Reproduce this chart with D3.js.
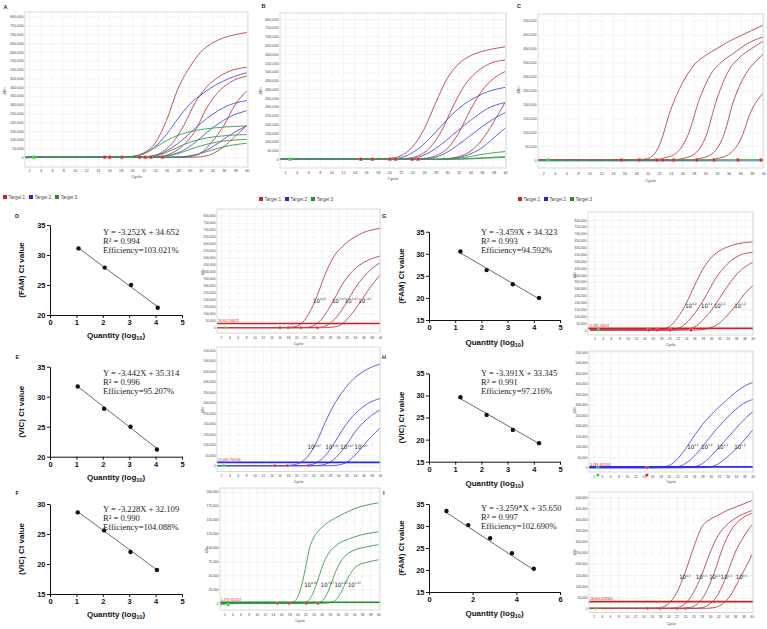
<!DOCTYPE html>
<html>
<head>
<meta charset="utf-8">
<script src="https://cdn.jsdelivr.net/npm/d3@7"></script>
<style>
  body { margin: 0; background: #fff; }
  svg { display: block; font-family: Arial, "Liberation Sans", sans-serif; }
</style>
</head>
<body>
<svg id="fig" width="767" height="629"></svg>
<script>
// ---------- tick labels ----------
var cycleTicks = [2,4,6,8,10,12,14,16,18,20,22,24,26,28,30,32,34,36,38,40];
var drnTicks800 = [0,50000,100000,150000,200000,250000,300000,350000,400000,450000,500000,550000,600000,650000,700000,750000,800000];
var drnTicks550 = [0,50000,100000,150000,200000,250000,300000,350000,400000,450000,500000,550000];
var drnTicks500 = [0,50000,100000,150000,200000,250000,300000,350000,400000,450000,500000];
var drnTicks200 = [0,25000,50000,75000,100000,125000,150000,175000,200000];
var qTicks5 = [0,1,2,3,4,5];
var qTicks6 = [0,2,4,6];
var ctTicks20_35 = [20,25,30,35];
var ctTicks15_30 = [15,20,25,30];
var ctTicks15_35 = [15,20,25,30,35];
var targets = ["Target 1", "Target 2", "Target 3"];

// ---------- amplification curves [cycle, dRn] ----------
var ampA_t1 = [
  [[1,0],[18,0],[20,5000],[22,25000],[24,80000],[26,210000],[28,390000],[30,510000],[32,600000],[34,650000],[36,680000],[38,698000],[40,710000]],
  [[1,0],[20,0],[23,5000],[25,25000],[27,80000],[29,180000],[31,310000],[33,400000],[35,455000],[37,490000],[40,512000]],
  [[1,0],[22,0],[25,5000],[27,25000],[29,70000],[31,150000],[33,280000],[35,370000],[37,425000],[40,462000]],
  [[1,0],[27,0],[30,5000],[32,25000],[34,90000],[36,180000],[38,300000],[40,377000]],
  [[1,0],[30,0],[32,3000],[34,20000],[36,60000],[38,120000],[40,180000]]
];
var ampA_t2 = [
  [[1,0],[18,0],[20,4000],[22,20000],[24,60000],[26,130000],[28,220000],[30,300000],[32,355000],[34,400000],[36,435000],[38,462000],[40,481000]],
  [[1,0],[21,0],[23,4000],[25,20000],[27,55000],[29,105000],[31,165000],[33,220000],[35,265000],[37,298000],[40,322000]],
  [[1,0],[23,0],[25,3000],[27,15000],[29,40000],[31,85000],[33,140000],[35,190000],[37,230000],[40,265000]],
  [[1,0],[27,0],[29,3000],[31,12000],[33,40000],[35,80000],[37,125000],[40,180000]]
];
var ampA_t3 = [
  [[1,-5000],[4,0],[18,0],[20,4000],[22,20000],[24,55000],[26,95000],[28,125000],[30,145000],[32,158000],[34,166000],[36,172000],[38,176000],[40,178000]],
  [[1,0],[21,0],[23,3000],[25,15000],[27,42000],[29,72000],[31,95000],[33,110000],[35,119000],[37,125000],[40,129000]],
  [[1,0],[23,0],[25,3000],[27,12000],[29,32000],[31,55000],[33,74000],[35,88000],[37,96000],[40,102000]],
  [[1,0],[26,0],[28,2000],[30,8000],[32,22000],[34,42000],[36,60000],[38,72000],[40,80000]]
];

var ampB_t1 = [
  [[1,0],[18,0],[20,5000],[22,20000],[24,70000],[26,170000],[28,320000],[30,460000],[32,545000],[34,590000],[36,615000],[38,630000],[40,642000]],
  [[1,0],[21,0],[23,5000],[25,20000],[27,65000],[29,160000],[31,300000],[33,420000],[35,495000],[37,540000],[40,566000]],
  [[1,0],[24,0],[26,5000],[28,20000],[30,60000],[32,150000],[34,280000],[36,390000],[38,460000],[40,500000]],
  [[1,0],[28,0],[30,4000],[32,15000],[34,45000],[36,110000],[38,210000],[40,323000]]
];
var ampB_t2 = [
  [[1,0],[19,0],[21,4000],[23,20000],[25,60000],[27,120000],[29,190000],[31,260000],[33,315000],[35,355000],[37,385000],[40,410000]],
  [[1,0],[21,0],[23,3000],[25,12000],[27,40000],[29,85000],[31,140000],[33,195000],[35,245000],[37,290000],[40,323000]],
  [[1,0],[24,0],[26,3000],[28,12000],[30,40000],[32,85000],[34,135000],[36,185000],[38,230000],[40,266000]],
  [[1,0],[28,0],[30,3000],[32,10000],[34,30000],[36,65000],[38,120000],[40,177000]]
];
var ampB_t3 = [
  [[1,0],[28,0],[31,3000],[33,10000],[35,22000],[37,33000],[40,44000]],
  [[1,0],[30,0],[34,5000],[37,10000],[40,15000]],
  [[1,0],[31,0],[35,4000],[40,11000]]
];

var ampC_t1 = [
  [[1,0],[18,0],[20,5000],[22,50000],[24,180000],[26,275000],[28,340000],[30,375000],[32,400000],[34,425000],[36,445000],[38,465000],[40,484000]],
  [[1,0],[21,0],[23,8000],[25,25000],[27,90000],[29,220000],[31,310000],[33,355000],[35,385000],[37,415000],[40,442000]],
  [[1,0],[24,0],[26,5000],[28,20000],[30,80000],[32,220000],[34,320000],[36,370000],[38,400000],[40,427000]],
  [[1,0],[27,0],[29,5000],[31,20000],[33,80000],[35,220000],[37,310000],[39,360000],[40,380000]],
  [[1,0],[30,0],[32,5000],[34,20000],[36,70000],[38,180000],[40,241000]]
];
var ampC_t2 = [[[1,-3000],[40,-3000]]];
var ampC_t3 = [[[1,-1500],[40,1500]]];

var ampD_t1 = [
  [[1,0],[16,0],[19,4000],[21,25000],[23,100000],[25,230000],[27,390000],[29,510000],[31,580000],[33,630000],[35,665000],[37,690000],[40,710000]],
  [[1,0],[20,0],[23,5000],[25,30000],[27,100000],[29,200000],[31,310000],[33,390000],[35,445000],[37,480000],[40,512000]],
  [[1,0],[23,0],[26,5000],[28,30000],[30,90000],[32,180000],[34,280000],[36,360000],[38,420000],[40,464000]],
  [[1,0],[26,0],[29,5000],[31,28000],[33,90000],[35,170000],[37,260000],[39,340000],[40,376000]]
];
var ampE_t2 = [
  [[1,0],[17,0],[19,3000],[21,15000],[23,50000],[25,120000],[27,210000],[29,290000],[31,350000],[33,400000],[35,435000],[37,460000],[40,484000]],
  [[1,0],[21,0],[23,3000],[25,16000],[27,50000],[29,105000],[31,170000],[33,225000],[35,265000],[37,295000],[40,320000]],
  [[1,0],[24,0],[26,3000],[28,16000],[30,50000],[32,100000],[34,160000],[36,205000],[38,240000],[40,265000]],
  [[1,0],[28,0],[30,3000],[32,16000],[34,50000],[36,95000],[38,140000],[40,178000]]
];
var ampF_t3 = [
  [[1,-3000],[5,0],[17,0],[19,2000],[20,10000],[21,30000],[22,62000],[23,98000],[24,117000],[25,128000],[27,142000],[30,155000],[33,166000],[36,174000],[40,180000]],
  [[1,0],[20,0],[22,2000],[23,7000],[24,20000],[25,40000],[26,62000],[27,80000],[28,92000],[30,106000],[33,116000],[36,123000],[40,128000]],
  [[1,0],[23,0],[25.6,2000],[27,12000],[28,28000],[29,48000],[30,65000],[31,78000],[32,86000],[34,95000],[37,101000],[40,105000]],
  [[1,0],[26,0],[28.6,2000],[30,10000],[31,22000],[32,38000],[33,52000],[34,62000],[35,68000],[37,73000],[40,78000]]
];
var ampG_t1 = [
  [[1,0],[16,0],[18,4000],[20,25000],[22,90000],[24,190000],[26,320000],[28,440000],[30,525000],[32,575000],[34,605000],[36,625000],[38,635000],[40,642000]],
  [[1,0],[19,0],[21,4000],[23,25000],[25,80000],[27,160000],[29,260000],[31,370000],[33,450000],[35,510000],[37,545000],[40,565000]],
  [[1,0],[22,0],[24,4000],[26,22000],[28,70000],[30,140000],[32,230000],[34,320000],[36,400000],[38,455000],[40,493000]],
  [[1,0],[26,0],[28,3000],[30,18000],[32,50000],[34,110000],[36,180000],[38,260000],[40,323000]]
];
var ampH_t2 = [
  [[1,0],[16,0],[18,2000],[20,10000],[22,40000],[24,90000],[26,150000],[28,205000],[30,250000],[32,290000],[34,325000],[36,360000],[38,388000],[40,406000]],
  [[1,0],[19,0],[21,2000],[23,10000],[25,35000],[27,75000],[29,125000],[31,175000],[33,220000],[35,260000],[37,295000],[40,325000]],
  [[1,0],[23,0],[25,2000],[27,10000],[29,35000],[31,75000],[33,120000],[35,165000],[37,210000],[40,267000]],
  [[1,0],[27,0],[29,2000],[31,10000],[33,35000],[35,70000],[37,110000],[39,155000],[40,179000]]
];
var ampI_t1 = [
  [[1,0],[16,0],[18,3000],[20,20000],[22,70000],[24,160000],[26,270000],[28,365000],[30,400000],[32,420000],[34,440000],[36,455000],[38,470000],[40,485000]],
  [[1,0],[20,0],[22,3000],[24,20000],[26,70000],[28,150000],[30,250000],[32,330000],[34,375000],[36,405000],[38,425000],[40,440000]],
  [[1,0],[23,0],[25,3000],[27,20000],[29,70000],[31,160000],[33,270000],[35,350000],[37,395000],[40,428000]],
  [[1,0],[26,0],[28,3000],[30,20000],[32,65000],[34,150000],[36,250000],[38,320000],[40,375000]],
  [[1,0],[29,0],[31,3000],[33,20000],[35,60000],[37,130000],[39,200000],[40,240000]]
];

// ---------- Ct markers [cycle, dRn] ----------
var marksA_red = [[15.2,0],[16.1,0],[18.2,0],[21.3,0],[22.3,0],[23.3,0],[25.3,0]];
var marksB_red = [[15.1,0],[17.1,0],[20.1,0],[21.1,0],[24,0],[25,0]];
var marksC_red = [[15.5,0],[18.6,0],[21.6,0],[22.6,0],[24.5,0],[28.5,0],[31.5,0],[35.6,0],[39.6,0]];
var marksD_red = [[16.1,0],[18.1,0],[21.1,0],[25.0,0]];
var marksE_red = [[14.9,0],[17.9,0],[22.9,0]];
var marksF_red = [[15.1,0],[18.0,0],[22.2,0],[25.1,0]];
var marksG_red = [[15.1,0],[17.1,0],[20.2,0],[25.2,0]];
var marksH_red = [[14.8,0],[14.8,-35000]];
var marksI_red = [[15.0,0],[18.0,0],[22.1,0],[24.1,0]];
var marksABC_green = [[2.9,0]];
var marksF_green = [[3.0,-3000]];
var marksH_green = [[3.1,0],[3.1,-35000]];

// ---------- thresholds ----------
var thrD = [30000, "26,952.16473"];
var thrE = [16000, "15,446.759534"];
var thrF = [1800, "1,759.901327"];
var thrG = [12000, "11,981.42541"];
var thrH = [4000, "3,786.492263"];
var thrI = [30000, "28,606.428344"];

// ---------- dilution labels [cycle, dRn] ----------
var dilD_pos = [[24.0,179000],[28.5,179000],[31.6,179000],[34.8,179000]];
var dilE_pos = [[22.7,78000],[27.0,78000],[30.5,78000],[33.9,78000]];
var dilF_pos = [[21.7,29700],[25.8,29700],[29.2,29700],[32.5,29700]];
var dilG_pos = [[23.8,162000],[27.6,162000],[30.7,162000],[35.6,162000]];
var dilH_pos = [[24.4,89000],[27.7,89000],[31.4,89000],[35.6,89000]];
var dilI_pos = [[22.6,130000],[26.6,130000],[29.8,130000],[32.6,130000],[36.2,130000]];
var dilExp07 = ["4.07","3.07","2.07","1.07"];
var dilExp2 = ["4.2","3.2","2.2","1.2"];
var dilExp5 = ["4.5","3.5","2.5","1.5","0.5"];

// ---------- standard curves ----------
var stdD_q = [1.08, 2.07, 3.07, 4.08], stdD_ct = [31.1, 27.9, 25.0, 21.2];
var stdE_q = [1.05, 2.05, 3.05, 4.05], stdE_ct = [31.7, 28.0, 25.0, 21.2];
var stdF_q = [1.05, 2.05, 3.05, 4.05], stdF_ct = [28.6, 25.6, 22.0, 19.0];
var stdG_q = [1.2, 2.2, 3.2, 4.2],     stdG_ct = [30.5, 26.3, 23.1, 20.0];
var stdH_q = [1.2, 2.2, 3.2, 4.2],     stdH_ct = [29.6, 25.6, 22.2, 19.2];
var stdI_q = [0.8, 1.8, 2.8, 3.8, 4.8], stdI_ct = [33.4, 30.2, 27.2, 23.8, 20.3];
var fitD = [-3.252, 34.652], fitE = [-3.442, 35.314], fitF = [-3.228, 32.109];
var fitG = [-3.459, 34.323], fitH = [-3.391, 33.345], fitI = [-3.259, 35.650];
var eqD = ["Y = -3.252X + 34.652", "R\u00b2 = 0.994", "Efficiency=103.021%"];
var eqE = ["Y = -3.442X + 35.314", "R\u00b2 = 0.996", "Efficiency=95.207%"];
var eqF = ["Y = -3.228X + 32.109", "R\u00b2 = 0.990", "Efficiency=104.088%"];
var eqG = ["Y = -3.459X + 34.323", "R\u00b2 = 0.993", "Efficiency=94.592%"];
var eqH = ["Y = -3.391X + 33.345", "R\u00b2 = 0.991", "Efficiency=97.216%"];
var eqI = ["Y = -3.259*X + 35.650", "R\u00b2 = 0.997", "Efficiency=102.690%"];

var RED = "#b9424f", BLUE = "#5050d8", GREEN = "#3c9a50";
var SERIF = "'Liberation Serif', 'Times New Roman', serif";
var NARROW = "'Liberation Sans Narrow', 'DejaVu Sans Condensed', Arial, sans-serif";
var svg = d3.select("#fig");
svg.append("rect").attr("width", 767).attr("height", 629).attr("fill", "#fff");

function ampPlot(p) {
  var g = svg.append("g");
  var x = d3.scaleLinear().domain([2, 40]).range([p.x2, p.x40]);
  var y = d3.scaleLinear().domain([0, p.top]).range([p.y0, p.yTopPx]);
  var w = p.r - p.l, h = p.b - p.t;
  var cid = "clip-" + p.id;

  g.append("clipPath").attr("id", cid).append("rect")
      .attr("x", p.l).attr("y", p.t).attr("width", w).attr("height", h);

  // grid
  g.append("g").attr("transform", "translate(" + p.l + ",0)")
      .call(d3.axisLeft(y).tickValues(p.ticks).tickSize(-w).tickFormat(""))
      .call(function(a) { a.select(".domain").remove(); })
      .selectAll("line").attr("stroke", "#e8e8e8").attr("stroke-width", 0.5);
  g.append("g").attr("transform", "translate(0," + p.b + ")")
      .call(d3.axisBottom(x).tickValues(cycleTicks).tickSize(-h).tickFormat(""))
      .call(function(a) { a.select(".domain").remove(); })
      .selectAll("line").attr("stroke", "#e8e8e8").attr("stroke-width", 0.5);

  var cg = g.append("g").attr("clip-path", "url(#" + cid + ")");
  var line = d3.line()
      .x(function(d) { return x(d[0]); })
      .y(function(d) { return y(d[1]); })
      .curve(d3.curveMonotoneX);

  p.sets.forEach(function(set, i) {
    set.forEach(function(cv) {
      cg.append("path").attr("d", line(cv))
          .attr("fill", "none").attr("stroke", p.colors[i]).attr("stroke-width", p.lw || 0.9);
    });
  });

  // threshold
  if (p.thr) {
    cg.append("line")
        .attr("x1", p.l).attr("x2", p.r)
        .attr("y1", y(p.thr[0])).attr("y2", y(p.thr[0]))
        .attr("stroke", p.thrColor).attr("stroke-width", 1.6);
    g.append("text").attr("x", p.l + 1).attr("y", y(p.thr[0]) - 1.2)
        .style("font-size", "3.4px").attr("fill", "#e01818").text(p.thr[1]);
  }

  // markers
  var ms = p.ms || 3;
  (p.red || []).forEach(function(m) {
    g.append("rect").attr("x", x(m[0]) - ms / 2).attr("y", y(m[1]) - ms / 2)
        .attr("width", ms).attr("height", ms)
        .attr("fill", "#e41d1d").attr("stroke", "#f3a0a0").attr("stroke-width", 0.4);
  });
  (p.green || []).forEach(function(m) {
    g.append("rect").attr("x", x(m[0]) - ms / 2).attr("y", y(m[1]) - ms / 2)
        .attr("width", ms).attr("height", ms)
        .attr("fill", "#22d52a").attr("stroke", "#9be89e").attr("stroke-width", 0.4);
  });

  // dilution labels
  if (p.dil) {
    p.dil.forEach(function(d, i) {
      var t = g.append("text").attr("x", x(d[0])).attr("y", y(d[1]))
          .attr("fill", "#222")
          .style("font-family", NARROW).style("font-size", "6px");
      t.append("tspan").text("10");
      t.append("tspan").style("font-size", "3.2px").attr("dy", -2.8).text(p.exps[i]);
    });
  }

  // frame
  g.append("rect").attr("x", p.l).attr("y", p.t).attr("width", w).attr("height", h)
      .attr("fill", "none").attr("stroke", "#c9c9c9").attr("stroke-width", 0.7);

  // tick labels
  g.append("g").attr("transform", "translate(" + p.l + ",0)")
      .call(d3.axisLeft(y).tickValues(p.ticks).tickSize(0).tickPadding(1.5).tickFormat(d3.format(",")))
      .call(function(a) { a.select(".domain").remove(); })
      .attr("font-size", null).attr("font-family", null)
      .selectAll("text").style("font-size", p.fs + "px").attr("fill", "#444");
  g.append("g").attr("transform", "translate(0," + p.b + ")")
      .call(d3.axisBottom(x).tickValues(cycleTicks).tickSize(0))
      .call(function(a) { a.select(".domain").remove(); })
      .attr("font-size", null).attr("font-family", null)
      .selectAll("text").attr("y", p.xLabY - p.b).attr("dy", 0)
      .style("font-size", p.fs + "px").attr("fill", "#444");

  g.append("text").attr("x", (p.l + p.r) / 2).attr("y", p.cycleY)
      .attr("text-anchor", "middle").style("font-size", (p.fs + 0.6) + "px").attr("fill", "#444").text("Cycle");
  g.append("text").attr("transform", "translate(" + p.drnX + "," + p.drnY + ") rotate(-90)")
      .attr("text-anchor", "middle").style("font-size", p.fs + "px").attr("fill", "#444").text("\u0394Rn");

  if (p.letter) {
    g.append("text").attr("x", p.letter[1]).attr("y", p.letter[2])
        .style("font-size", "5.5px").attr("font-weight", "bold").attr("fill", "#222").text(p.letter[0]);
  }

  if (p.legend) {
    var lg = g.append("g").attr("transform", "translate(" + p.legend[0] + "," + p.legend[1] + ")");
    var lc = ["#c8202c", "#2424d8", "#1d8f30"];
    targets.forEach(function(t, i) {
      lg.append("rect").attr("x", i * 26).attr("y", -2).attr("width", 4).attr("height", 4).attr("fill", lc[i]);
      lg.append("text").attr("x", i * 26 + 5.5).attr("y", 1.7).style("font-size", "4.6px")
          .attr("fill", "#444").text(t);
    });
  }
}

function stdPlot(s) {
  var g = svg.append("g");
  var x = d3.scaleLinear().domain([0, s.xMax]).range([s.xl, s.xr]);
  var y = d3.scaleLinear().domain([s.yMin, s.yMax]).range([s.yb, s.yt]);

  function styleAxis(a) {
    a.attr("font-size", null).attr("font-family", null);
    a.select(".domain").attr("stroke", "#111").attr("stroke-width", 1);
    a.selectAll(".tick line").attr("stroke", "#111").attr("stroke-width", 1);
    a.selectAll("text").style("font-size", "7.5px").attr("font-weight", "bold").attr("fill", "#111");
  }
  g.append("g").attr("transform", "translate(0," + s.yb + ")")
      .call(d3.axisBottom(x).tickValues(s.xTicks).tickFormat(d3.format("d")).tickSize(3).tickSizeOuter(0).tickPadding(1.5))
      .call(styleAxis);
  g.append("g").attr("transform", "translate(" + s.xl + ",0)")
      .call(d3.axisLeft(y).tickValues(s.yTicks).tickFormat(d3.format("d")).tickSize(3).tickSizeOuter(0).tickPadding(1.5))
      .call(styleAxis);

  var q0 = d3.min(s.q), q1 = d3.max(s.q);
  g.append("line")
      .attr("x1", x(q0)).attr("y1", y(s.fit[0] * q0 + s.fit[1]))
      .attr("x2", x(q1)).attr("y2", y(s.fit[0] * q1 + s.fit[1]))
      .attr("stroke", "#444").attr("stroke-width", 0.8);

  g.selectAll("circle.pt").data(s.q).enter().append("circle")
      .attr("cx", function(d) { return x(d); })
      .attr("cy", function(d, i) { return y(s.ct[i]); })
      .attr("r", 2.2).attr("fill", "#111");

  s.eq.forEach(function(t, i) {
    g.append("text").attr("x", s.eqX).attr("y", s.eqY + i * 9.2)
        .style("font-family", SERIF).style("font-size", "8.6px")
        .attr("fill", "#222").text(t);
  });

  g.append("text").attr("transform", "translate(" + s.ytX + "," + s.ytY + ") rotate(-90)")
      .attr("text-anchor", "middle").style("font-size", "8px").attr("font-weight", "bold")
      .attr("fill", "#111").text(s.ytitle);

  var xt = g.append("text").attr("x", (s.xl + s.xr) / 2).attr("y", s.xtY)
      .attr("text-anchor", "middle").style("font-size", "8px").attr("font-weight", "bold").attr("fill", "#111");
  xt.append("tspan").text("Quantity (log");
  xt.append("tspan").style("font-size", "5.5px").attr("dy", 2).text("10");
  xt.append("tspan").attr("dy", -2).text(")");

  g.append("text").attr("x", s.letter[1]).attr("y", s.letter[2])
      .style("font-size", "5.5px").attr("font-weight", "bold").attr("fill", "#222").text(s.letter[0]);
}

// ---------- top row ----------
ampPlot({id: "A", l: 25, t: 12, r: 248, b: 167, x2: 29, x40: 246.7, y0: 157.3, yTopPx: 16.7, top: 800000,
  ticks: drnTicks800, fs: 3.7, xLabY: 172, cycleY: 177.8, drnX: 5.5, drnY: 91,
  sets: [ampA_t1, ampA_t2, ampA_t3], colors: [RED, BLUE, GREEN],
  red: marksA_red, green: marksABC_green, letter: ["A", 3.5, 8.5], legend: [3, 197]});
ampPlot({id: "B", l: 280, t: 13, r: 506, b: 168, x2: 285, x40: 505, y0: 159.3, yTopPx: 19, top: 800000,
  ticks: drnTicks800, fs: 3.7, xLabY: 173.5, cycleY: 180, drnX: 262, drnY: 91,
  sets: [ampB_t1, ampB_t2, ampB_t3], colors: [RED, BLUE, GREEN],
  red: marksB_red, green: marksABC_green, letter: ["B", 261.5, 7.5], legend: [259, 199]});
ampPlot({id: "C", l: 538, t: 14, r: 763, b: 168, x2: 543.3, x40: 763.3, y0: 160, yTopPx: 20.7, top: 500000,
  ticks: drnTicks500, fs: 3.7, xLabY: 174.5, cycleY: 181.5, drnX: 519.5, drnY: 90,
  sets: [ampC_t1, ampC_t2, ampC_t3], colors: [RED, "#2b6fb0", GREEN],
  red: marksC_red, green: marksABC_green, letter: ["C", 517, 7.5], legend: [518, 199]});

// ---------- amplification plots D-I ----------
ampPlot({id: "D", l: 217, t: 209, r: 380, b: 333, x2: 221, x40: 380, y0: 327.7, yTopPx: 215.7, top: 800000,
  ticks: drnTicks800, fs: 3.3, xLabY: 338.5, cycleY: 344.5, drnX: 204, drnY: 272, ms: 2.4,
  sets: [ampD_t1], colors: [RED], thr: thrD, thrColor: "#cc1f1f",
  red: marksD_red, green: [[3, 0]], dil: dilD_pos, exps: dilExp07});
ampPlot({id: "E", l: 217, t: 347, r: 380, b: 471.5, x2: 221, x40: 380, y0: 465.7, yTopPx: 350.2, top: 550000,
  ticks: drnTicks550, fs: 3.3, xLabY: 477, cycleY: 482.5, drnX: 204, drnY: 410, ms: 2.4,
  sets: [ampE_t2], colors: [BLUE], thr: thrE, thrColor: "#2a2aee",
  red: marksE_red, green: [[2.7, 0]], dil: dilE_pos, exps: dilExp07});
ampPlot({id: "F", l: 220, t: 488, r: 380, b: 610, x2: 224.3, x40: 378.3, y0: 603.3, yTopPx: 491.7, top: 200000,
  ticks: drnTicks200, fs: 3.3, xLabY: 616, cycleY: 622, drnX: 208, drnY: 550, ms: 2.4,
  sets: [ampF_t3], colors: [GREEN], thr: thrF, thrColor: "#1f8f2f",
  red: marksF_red, green: marksF_green, dil: dilF_pos, exps: dilExp07});
ampPlot({id: "G", l: 588, t: 212, r: 753, b: 335, x2: 594.3, x40: 752.7, y0: 330, yTopPx: 220, top: 800000,
  ticks: drnTicks800, fs: 3.3, xLabY: 339.5, cycleY: 346, drnX: 576, drnY: 275, ms: 2.4,
  sets: [ampG_t1], colors: [RED], thr: thrG, thrColor: "#cc1f1f",
  red: marksG_red, green: [[3, 0]], dil: dilG_pos, exps: dilExp2});
ampPlot({id: "H", l: 589, t: 351, r: 753, b: 472, x2: 593.3, x40: 752.7, y0: 467.7, yTopPx: 352.2, top: 550000,
  ticks: drnTicks550, fs: 3.3, xLabY: 477.5, cycleY: 483, drnX: 576, drnY: 410, ms: 2.4,
  sets: [ampH_t2], colors: [BLUE], thr: thrH, thrColor: "#2a2aee",
  red: marksH_red, green: marksH_green, dil: dilH_pos, exps: dilExp2});
ampPlot({id: "I", l: 589, t: 492, r: 753, b: 612.5, x2: 593.3, x40: 751.7, y0: 608.3, yTopPx: 497.3, top: 500000,
  ticks: drnTicks500, fs: 3.3, xLabY: 617.5, cycleY: 624.5, drnX: 576, drnY: 552, ms: 2.4,
  sets: [ampI_t1], colors: [RED], thr: thrI, thrColor: "#cc1f1f",
  red: marksI_red, green: [[2.8, 0]], dil: dilI_pos, exps: dilExp5});

// ---------- standard curves ----------
stdPlot({xl: 50, xr: 182, xMax: 5, xTicks: qTicks5, yMin: 20, yMax: 35, yb: 315, yt: 225, yTicks: ctTicks20_35,
  q: stdD_q, ct: stdD_ct, fit: fitD, eq: eqD, eqX: 103, eqY: 234.5,
  ytitle: "(FAM) Ct value", ytX: 24, ytY: 270, xtY: 338, letter: ["D", 15, 217.5]});
stdPlot({xl: 50, xr: 182, xMax: 5, xTicks: qTicks5, yMin: 20, yMax: 35, yb: 456.7, yt: 366.7, yTicks: ctTicks20_35,
  q: stdE_q, ct: stdE_ct, fit: fitE, eq: eqE, eqX: 103, eqY: 375.5,
  ytitle: "(VIC) Ct value", ytX: 24, ytY: 411.7, xtY: 479.5, letter: ["E", 15.5, 358.5]});
stdPlot({xl: 50, xr: 182, xMax: 5, xTicks: qTicks5, yMin: 15, yMax: 30, yb: 594, yt: 504, yTicks: ctTicks15_30,
  q: stdF_q, ct: stdF_ct, fit: fitF, eq: eqF, eqX: 103, eqY: 511.5,
  ytitle: "(VIC) Ct value", ytX: 24, ytY: 549, xtY: 616.5, letter: ["F", 15.5, 495]});
stdPlot({xl: 429, xr: 560, xMax: 5, xTicks: qTicks5, yMin: 15, yMax: 35, yb: 320, yt: 231.7, yTicks: ctTicks15_35,
  q: stdG_q, ct: stdG_ct, fit: fitG, eq: eqG, eqX: 481, eqY: 234.5,
  ytitle: "(FAM) Ct value", ytX: 404, ytY: 276, xtY: 344.5, letter: ["G", 382, 218]});
stdPlot({xl: 429, xr: 560, xMax: 5, xTicks: qTicks5, yMin: 15, yMax: 35, yb: 461.7, yt: 373.4, yTicks: ctTicks15_35,
  q: stdH_q, ct: stdH_ct, fit: fitH, eq: eqH, eqX: 481, eqY: 376,
  ytitle: "(VIC) Ct value", ytX: 404, ytY: 417.5, xtY: 486, letter: ["H", 382, 359]});
stdPlot({xl: 429, xr: 560, xMax: 6, xTicks: qTicks6, yMin: 15, yMax: 35, yb: 592, yt: 504, yTicks: ctTicks15_35,
  q: stdI_q, ct: stdI_ct, fit: fitI, eq: eqI, eqX: 481, eqY: 511,
  ytitle: "(FAM) Ct value", ytX: 404, ytY: 548, xtY: 616, letter: ["I", 383, 495]});
</script>
</body>
</html>
